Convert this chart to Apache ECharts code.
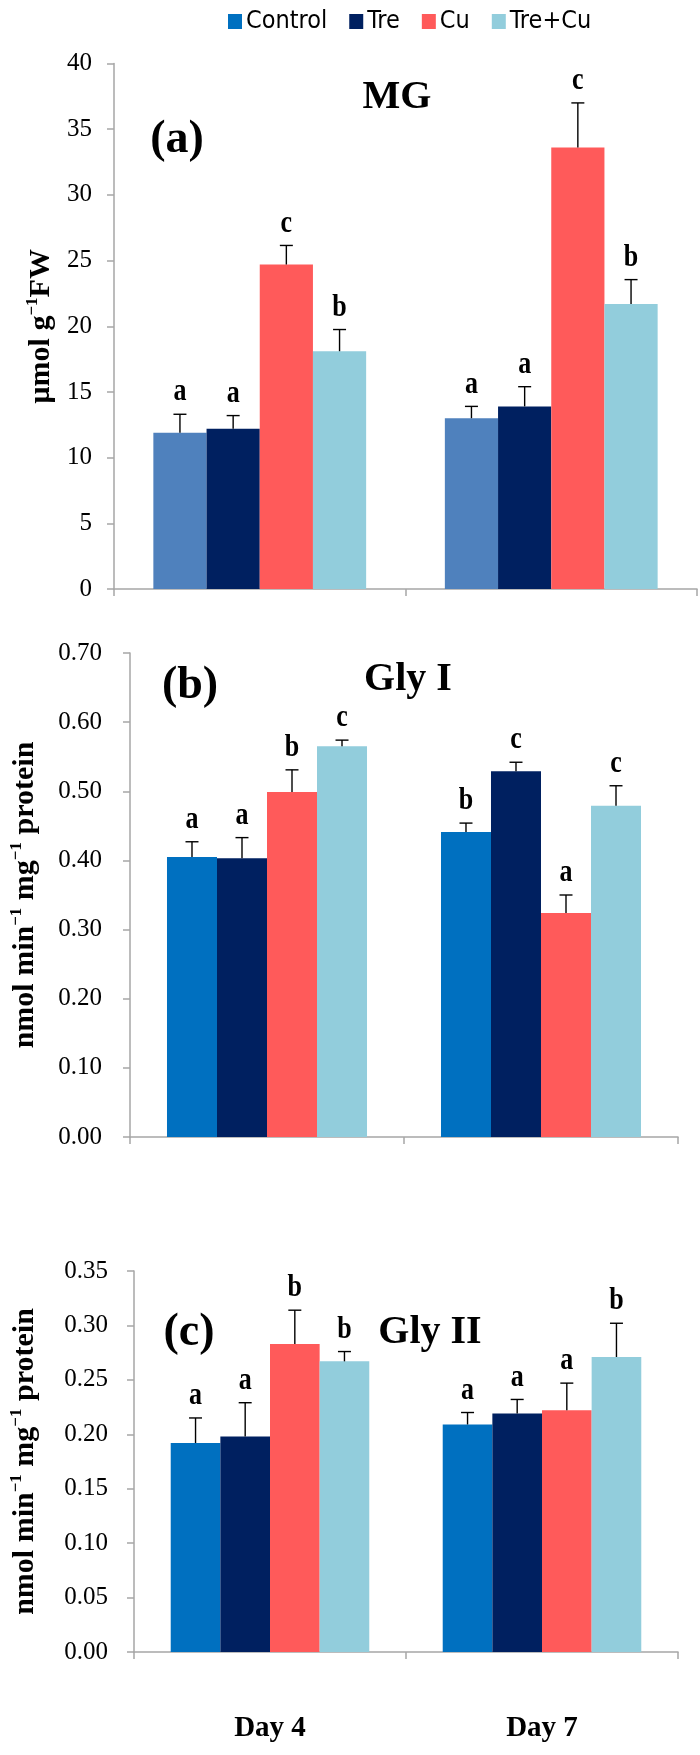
<!DOCTYPE html>
<html>
<head>
<meta charset="utf-8">
<script src="https://cdn.jsdelivr.net/npm/echarts@6/dist/echarts.min.js"></script>
<style>html,body{margin:0;padding:0;background:#fff}#c{width:700px;height:1755px}</style>
</head>
<body>
<div id="c"></div>
<script>
// ---- data ----
const categories = ['Day 4', 'Day 7'];
const seriesNames = ['Control', 'Tre', 'Cu', 'Tre+Cu'];

// (a) MG, µmol g-1 FW
const mgControl = [11.9, 13.0];
const mgTre     = [12.2, 13.9];
const mgCu      = [24.7, 33.6];
const mgTreCu   = [18.1, 21.7];
const mgControlErr = [1.4, 0.9];
const mgTreErr     = [1.0, 1.5];
const mgCuErr      = [1.45, 3.4];
const mgTreCuErr   = [1.65, 1.85];
const mgControlSig = ['a', 'a'];
const mgTreSig     = ['a', 'a'];
const mgCuSig      = ['c', 'c'];
const mgTreCuSig   = ['b', 'b'];

// (b) Gly I
const g1Control = [0.405, 0.441];
const g1Tre     = [0.403, 0.529];
const g1Cu      = [0.499, 0.324];
const g1TreCu   = [0.565, 0.479];
const g1ControlErr = [0.022, 0.013];
const g1TreErr     = [0.030, 0.013];
const g1CuErr      = [0.032, 0.026];
const g1TreCuErr   = [0.009, 0.029];
const g1ControlSig = ['a', 'b'];
const g1TreSig     = ['a', 'c'];
const g1CuSig      = ['b', 'a'];
const g1TreCuSig   = ['c', 'c'];

// (c) Gly II
const g2Control = [0.192, 0.209];
const g2Tre     = [0.198, 0.219];
const g2Cu      = [0.283, 0.222];
const g2TreCu   = [0.267, 0.271];
const g2ControlErr = [0.023, 0.011];
const g2TreErr     = [0.031, 0.013];
const g2CuErr      = [0.031, 0.025];
const g2TreCuErr   = [0.009, 0.031];
const g2ControlSig = ['a', 'a'];
const g2TreSig     = ['a', 'a'];
const g2CuSig      = ['b', 'a'];
const g2TreCuSig   = ['b', 'b'];

// ---- style ----
const SERIF = "'Liberation Serif','Times New Roman',serif";
const NARROW = "'Liberation Sans Narrow','DejaVu Sans Condensed','Arial Narrow',sans-serif";
const colorsA = ['#4F81BD', '#002060', '#FF5A5A', '#92CDDC'];
const colorsBC = ['#0070C0', '#002060', '#FF5A5A', '#92CDDC'];
const GAP = 0.27; // bar category gap fraction

const panels = [
  { means: [mgControl, mgTre, mgCu, mgTreCu], errs: [mgControlErr, mgTreErr, mgCuErr, mgTreCuErr],
    sigs: [mgControlSig, mgTreSig, mgCuSig, mgTreCuSig], colors: colorsA,
    grid: { left: 114, right: 3, top: 63.5, height: 525.5 },
    y: { min: 0, max: 40, interval: 5, dec: 0, labelMargin: 22 },
    name: '{t|μmol g}{s|−1}{t|FW}', nameGap: 56 },
  { means: [g1Control, g1Tre, g1Cu, g1TreCu], errs: [g1ControlErr, g1TreErr, g1CuErr, g1TreCuErr],
    sigs: [g1ControlSig, g1TreSig, g1CuSig, g1TreCuSig], colors: colorsBC,
    grid: { left: 120.5, right: 22, top: 653, height: 484 },
    y: { min: 0, max: 0.7, interval: 0.1, dec: 2, labelMargin: 28 },
    name: '{t|nmol min}{s|−1}{t| mg}{s|−1}{t| protein}', nameGap: 88 },
  { means: [g2Control, g2Tre, g2Cu, g2TreCu], errs: [g2ControlErr, g2TreErr, g2CuErr, g2TreCuErr],
    sigs: [g2ControlSig, g2TreSig, g2CuSig, g2TreCuSig], colors: colorsBC,
    grid: { left: 117, right: 22, top: 1271, height: 381 },
    y: { min: 0, max: 0.35, interval: 0.05, dec: 2, labelMargin: 26 },
    name: '{t|nmol min}{s|−1}{t| mg}{s|−1}{t| protein}', nameGap: 92 }
];

const grid = [], xAxis = [], yAxis = [], series = [];
panels.forEach((p, pi) => {
  grid.push(p.grid);
  xAxis.push({
    type: 'category', gridIndex: pi, data: categories,
    axisLine: { lineStyle: { color: '#A6A6A6', width: 1.5 } },
    axisTick: { show: true, length: 7, inside: false, lineStyle: { color: '#A6A6A6', width: 1.5 } },
    axisLabel: pi === 2 ? { show: true, margin: 62, color: '#000', fontFamily: SERIF, fontWeight: 'bold', fontSize: 29 } : { show: false },
    splitLine: { show: false }
  });
  yAxis.push({
    type: 'value', gridIndex: pi, min: p.y.min, max: p.y.max, interval: p.y.interval,
    axisLine: { show: true, lineStyle: { color: '#A6A6A6', width: 1.5 } },
    axisTick: { show: true, length: 7, lineStyle: { color: '#A6A6A6', width: 1.5 } },
    splitLine: { show: false },
    axisLabel: { margin: p.y.labelMargin, color: '#000', fontFamily: SERIF, fontSize: 25,
      formatter: v => v.toFixed(p.y.dec) },
    name: p.name, nameLocation: 'middle', nameRotate: 90, nameGap: p.nameGap,
    nameTextStyle: {
      rich: {
        t: { fontFamily: SERIF, fontWeight: 'bold', fontSize: 30, color: '#000', lineHeight: 34 },
        s: { fontFamily: SERIF, fontWeight: 'bold', fontSize: 17, color: '#000', lineHeight: 18, verticalAlign: 'top' }
      }
    }
  });
  seriesNames.forEach((nm, si) => {
    series.push({
      type: 'bar', name: nm, xAxisIndex: pi, yAxisIndex: pi,
      data: p.means[si], barGap: '0%', barCategoryGap: (GAP * 100) + '%',
      itemStyle: { color: p.colors[si] }, z: 2
    });
  });
  const ebData = [];
  seriesNames.forEach((nm, si) => {
    categories.forEach((c, ci) => {
      ebData.push([ci, si, p.means[si][ci], p.means[si][ci] + p.errs[si][ci], p.sigs[si][ci]]);
    });
  });
  series.push({
    type: 'custom', xAxisIndex: pi, yAxisIndex: pi, z: 5, silent: true,
    encode: { x: 0, y: 3 },
    data: ebData,
    renderItem: (params, api) => {
      const ci = api.value(0), si = api.value(1);
      const band = api.size([1, 0])[0];
      const cx = api.coord([ci, 0])[0];
      const bw = band * (1 - GAP) / 4;
      const x = cx - 2 * bw + (si + 0.5) * bw;
      const y0 = api.coord([ci, api.value(2)])[1];
      const y1 = api.coord([ci, api.value(3)])[1];
      const letter = ebData[params.dataIndex][4];
      const st = { stroke: '#000', lineWidth: 1.4 };
      return { type: 'group', children: [
        { type: 'line', shape: { x1: x, y1: y0, x2: x, y2: y1 }, style: st },
        { type: 'line', shape: { x1: x - 6.5, y1: y1, x2: x + 6.5, y2: y1 }, style: st },
        { type: 'text', x: x, y: y1 - 6, scaleY: 1.25,
          style: { text: letter, fill: '#000', font: 'bold 26px ' + SERIF, textAlign: 'center', textVerticalAlign: 'bottom' } }
      ]};
    }
  });
});

const titleText = (txt, x, y, size) => ({ type: 'text', x: x, y: y, z: 10,
  style: { text: txt, fill: '#000', font: 'bold ' + size + 'px ' + SERIF, textAlign: 'center', textVerticalAlign: 'middle' } });

const option = {
  animation: false,
  backgroundColor: '#fff',
  legend: {
    left: 223, top: 4, itemWidth: 14, itemHeight: 15, itemGap: 22,
    icon: 'rect',
    textStyle: { fontFamily: NARROW, fontSize: 25, color: '#000', padding: [0, 0, 0, -1] },
    data: seriesNames.map((n, i) => ({ name: n, itemStyle: { color: colorsBC[i] } }))
  },
  grid, xAxis, yAxis, series,
  graphic: [
    titleText('(a)', 177, 140, 46),
    titleText('MG', 397, 98, 40),
    titleText('(b)', 190, 686, 46),
    titleText('Gly I', 408, 680, 40),
    titleText('(c)', 189, 1333, 46),
    titleText('Gly II', 430, 1333, 40)
  ]
};

const chart = echarts.init(document.getElementById('c'), null, { renderer: 'canvas' });
chart.setOption(option);
</script>
</body>
</html>
